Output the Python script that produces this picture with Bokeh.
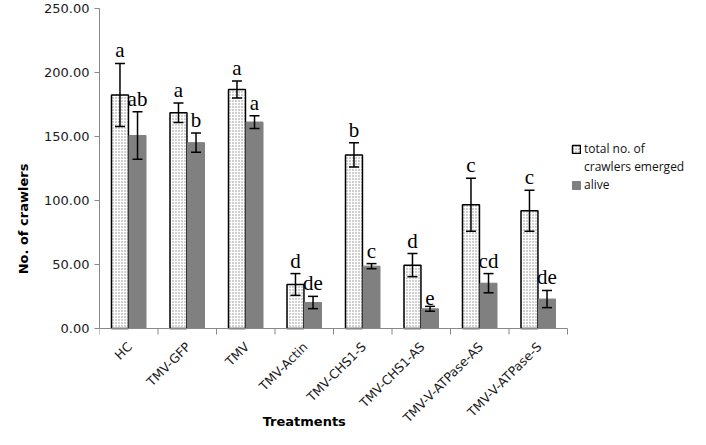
import numpy as np
from bokeh.plotting import figure
from bokeh.models import (ColumnDataSource, Whisker, FixedTicker, NumeralTickFormatter,
                          Legend, LegendItem, Range1d)
from bokeh.core.properties import value
from bokeh.embed import file_html
from bokeh.resources import INLINE

treatments = ["HC", "TMV-GFP", "TMV", "TMV-Actin", "TMV-CHS1-S", "TMV-CHS1-AS",
              "TMV-V-ATPase-AS", "TMV-V-ATPase-S"]
total = [182.5, 168.5, 186.7, 34.4, 135.6, 49.5, 96.7, 92.0]
total_err = [24.6, 7.6, 6.7, 8.5, 9.5, 9.0, 20.7, 16.0]
alive = [150.8, 145.2, 161.3, 20.3, 48.7, 15.4, 35.4, 23.0]
alive_err = [18.5, 7.5, 5.0, 4.8, 2.0, 1.9, 7.5, 6.7]
total_letters = ["a", "a", "a", "d", "b", "d", "c", "c"]
alive_letters = ["ab", "b", "a", "de", "c", "e", "cd", "de"]
y_ticks = [0, 50, 100, 150, 200, 250]
y_max = 250
legend_labels = ["total no. of", "crawlers emerged", "alive"]
x_title = "Treatments"
y_title = "No. of crawlers"

# ---- layout constants (pixels) ----
W, H = 690, 429
left_b, top_b = 99, 8
axis_y_px = 328          # figure pixel row of value 0
cat_px = 58.5            # pixel width of one category
tick_px = 6

n = len(treatments)
centers = [i + 0.5 for i in range(n)]
bounds = [float(i) for i in range(n + 1)]
off = 0.15
bw = 0.29

px_per_unit = (axis_y_px - top_b) / y_max
y_min = -(H - axis_y_px) / px_per_unit
x_end = (W - left_b) / cat_px
title_x = n / 2 - 0.5

src_t = ColumnDataSource(dict(x=[c - off for c in centers], top=total,
                              upper=[v + e for v, e in zip(total, total_err)],
                              lower=[v - e for v, e in zip(total, total_err)],
                              lab=total_letters))
src_a = ColumnDataSource(dict(x=[c + off for c in centers], top=alive,
                              upper=[v + e for v, e in zip(alive, alive_err)],
                              lower=[v - e for v, e in zip(alive, alive_err)],
                              lab=alive_letters))
src_x = ColumnDataSource(dict(x=centers, y=[0] * n, text=treatments))
src_b = ColumnDataSource(dict(x=bounds, y0=[0] * (n + 1),
                              y1=[-tick_px / px_per_unit] * (n + 1)))

p = figure(width=W, height=H, output_backend="svg", toolbar_location=None,
           x_range=Range1d(0, x_end), y_range=Range1d(y_min, y_max),
           x_axis_location=None,
           min_border_left=left_b, min_border_right=0, min_border_top=top_b,
           min_border_bottom=0)
p.outline_line_color = None
p.xgrid.visible = False
p.ygrid.visible = False
p.background_fill_color = "white"

r_t = p.vbar(x="x", top="top", width=bw, source=src_t, fill_color="white",
             line_color="black", line_width=1.5, hatch_pattern="dot",
             hatch_color="#888888", hatch_scale=3, hatch_weight=1)
r_a = p.vbar(x="x", top="top", width=bw, source=src_a, fill_color="#808080",
             line_color="#808080", line_width=1)
r_blank = p.vbar(x="x", top="top", width=bw, source=src_t, fill_alpha=0,
                 line_alpha=0)

for s in (src_t, src_a):
    w = Whisker(base="x", upper="upper", lower="lower", source=s,
                line_color="black", line_width=1.5, level="overlay")
    w.upper_head.size = 10
    w.lower_head.size = 10
    w.upper_head.line_width = 1.5
    w.lower_head.line_width = 1.5
    p.add_layout(w)
    p.text(x="x", y="upper", text="lab", source=s, text_align="center",
           text_baseline="bottom", y_offset=-1,
           text_font=value("Liberation Serif"), text_font_size="21px",
           text_color="black")

# category axis drawn from the data positions
p.segment(x0=[bounds[0]], y0=[0], x1=[bounds[-1]], y1=[0], line_color="#888888",
          line_width=1)
p.segment(x0="x", y0="y0", x1="x", y1="y1", source=src_b, line_color="#888888",
          line_width=1)
p.text(x="x", y="y", text="text", source=src_x, angle=np.pi / 4,
       text_align="right", text_baseline="middle", x_offset=1, y_offset=16,
       text_font=value("DejaVu Sans"), text_font_size="12.5px", text_color="#1a1a1a")
p.text(x=[title_x], y=[y_min], text=[x_title], text_align="center",
       text_baseline="bottom", y_offset=-1, text_font=value("DejaVu Sans"),
       text_font_style="bold", text_font_size="13px", text_color="black")

# y axis
p.yaxis.bounds = (0, y_max)
p.yaxis.ticker = FixedTicker(ticks=y_ticks)
p.yaxis.formatter = NumeralTickFormatter(format="0.00")
p.yaxis.axis_line_color = "#888888"
p.yaxis.major_tick_line_color = "#888888"
p.yaxis.major_tick_out = 5
p.yaxis.major_tick_in = 0
p.yaxis.minor_tick_line_color = None
p.yaxis.major_label_text_font = "DejaVu Sans"
p.yaxis.major_label_text_font_size = "13px"
p.yaxis.major_label_text_color = "#1a1a1a"
p.yaxis.axis_label = y_title
p.yaxis.axis_label_text_font = "DejaVu Sans"
p.yaxis.axis_label_text_font_style = "bold"
p.yaxis.axis_label_text_font_size = "13px"
p.yaxis.axis_label_text_color = "black"
p.yaxis.axis_label_standoff = 10

legend = Legend(items=[LegendItem(label=legend_labels[0], renderers=[r_t]),
                       LegendItem(label=legend_labels[1], renderers=[r_blank]),
                       LegendItem(label=legend_labels[2], renderers=[r_a])],
                location=(472, 236), border_line_color=None, background_fill_alpha=0,
                label_text_font="Open Sans", label_text_font_size="12px",
                label_text_color="#111111",
                label_height=16, glyph_width=10, glyph_height=10, spacing=1,
                padding=0, margin=0, label_standoff=3)
p.add_layout(legend, "center")

open("out.html", "w").write(file_html(p, INLINE))
